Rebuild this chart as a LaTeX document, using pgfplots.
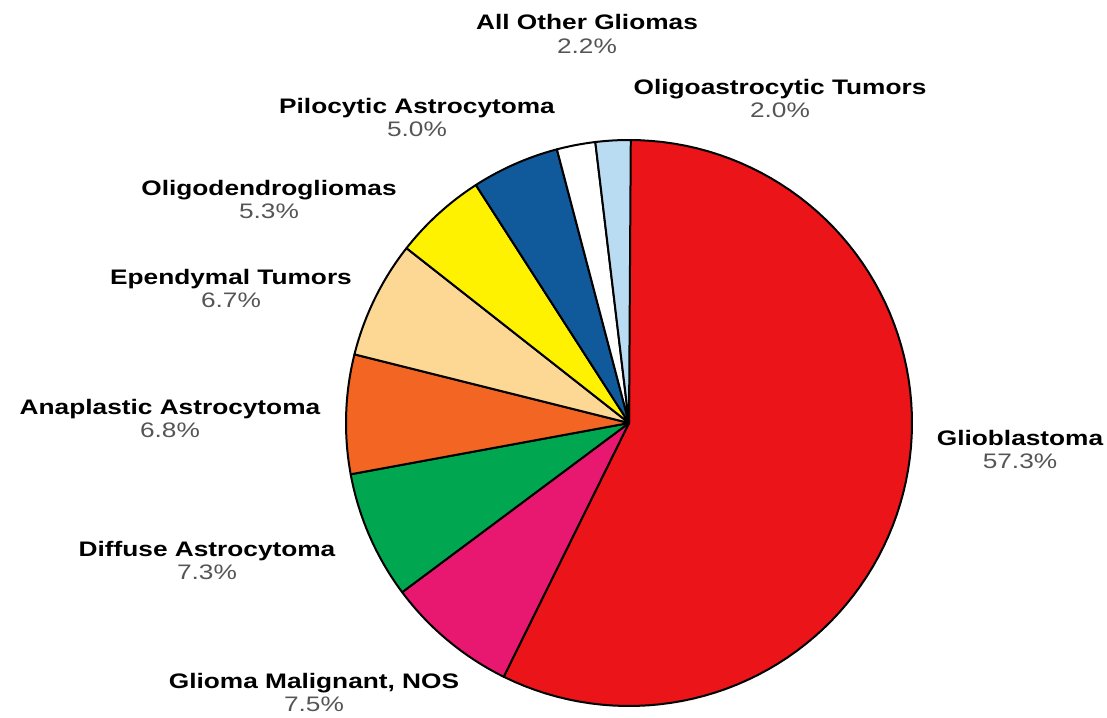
\documentclass[border=0pt]{standalone}
\usepackage{pgfplots}
\pgfplotsset{compat=1.18}
\usepackage{fontspec}
\setmainfont{Liberation Sans}[FakeStretch=1.25]

\definecolor{cGlio}{HTML}{EA1419}
\definecolor{cGMN}{HTML}{E8176F}
\definecolor{cDiff}{HTML}{00A650}
\definecolor{cAna}{HTML}{F26522}
\definecolor{cEpen}{HTML}{FDD895}
\definecolor{cOligo}{HTML}{FFF200}
\definecolor{cPilo}{HTML}{105A9C}
\definecolor{cOther}{HTML}{FFFFFF}
\definecolor{cOA}{HTML}{BADCF2}
\definecolor{pctgray}{HTML}{555555}

% pie geometry (page units, y measured downwards)
\def\cx{629}
\def\cy{423}
\def\rad{283}
\gdef\cum{0}

% one wedge: share in percent, fill colour; drawn clockwise from 12 o'clock
\newcommand\slice[2]{%
  \pgfmathsetmacro\sA{3.6*\cum}%
  \pgfmathsetmacro\sB{3.6*(\cum+#1)}%
  \edef\temp{\noexpand\addplot[fill=#2, draw=black, line width=2pt,
      line join=round, domain=\sA:\sB, samples=90]
      ({\cx+\rad*sin(x)},{\cy-\rad*cos(x)}) -- (axis cs:\cx,\cy) -- cycle;}%
  \temp
  \pgfmathsetmacro\newcum{\cum+#1}\xdef\cum{\newcum}%
}

% label: x, name baseline, name, percent
\newcommand\lab[4]{%
  \node[anchor=base, inner sep=0pt] at (axis cs:#1,#2) {\bfseries #3};
  \node[anchor=base, inner sep=0pt, text=pctgray] at (axis cs:#1,#2+23) {#4};
}

\begin{document}
\begin{tikzpicture}
\begin{axis}[
  scale only axis, width=1107pt, height=717pt,
  xmin=0, xmax=1107, ymin=0, ymax=717, y dir=reverse,
  hide axis, clip=false,
  font=\fontsize{21}{24}\selectfont,
]
\slice{57.3}{cGlio}
\slice{7.5}{cGMN}
\slice{7.3}{cDiff}
\slice{6.8}{cAna}
\slice{6.7}{cEpen}
\slice{5.3}{cOligo}
\slice{5.0}{cPilo}
\slice{2.2}{cOther}
\slice{2.0}{cOA}

\lab{587}{30}{All Other Gliomas}{2.2\%}
\lab{780}{94}{Oligoastrocytic Tumors}{2.0\%}
\lab{417}{113}{Pilocytic Astrocytoma}{5.0\%}
\lab{269}{195}{Oligodendrogliomas}{5.3\%}
\lab{231}{284}{Ependymal Tumors}{6.7\%}
\lab{170}{414}{Anaplastic Astrocytoma}{6.8\%}
\lab{207}{556}{Diffuse Astrocytoma}{7.3\%}
\lab{314}{688}{Glioma Malignant, NOS}{7.5\%}
\lab{1020}{445}{Glioblastoma}{57.3\%}
\end{axis}
\pgfresetboundingbox
\path (0,0) rectangle (1107pt,717pt);
\end{tikzpicture}
\end{document}
